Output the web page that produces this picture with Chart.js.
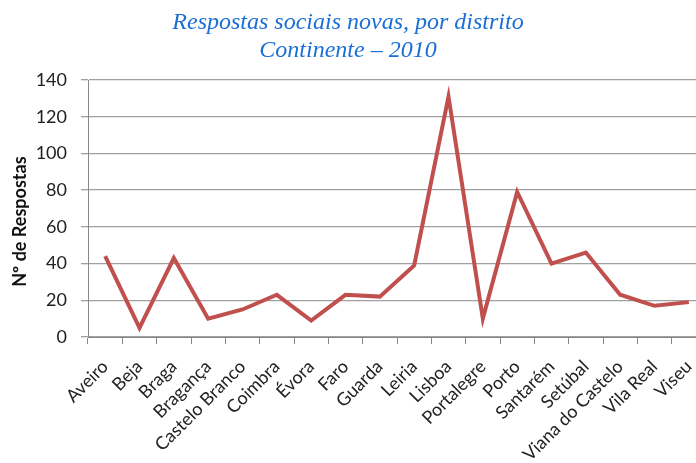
<!DOCTYPE html>
<html>
<head>
<meta charset="utf-8">
<script src="https://cdn.jsdelivr.net/npm/chart.js@4/dist/chart.umd.min.js"></script>
<style>
html,body{margin:0;padding:0;background:#fff;}
#wrap{width:696px;height:463px;position:relative;overflow:hidden;}
#c{position:absolute;left:-10px;top:0;}
</style>
</head>
<body>
<div id="wrap"><canvas id="c" width="716" height="463"></canvas></div>
<script>
const categories = ["Aveiro","Beja","Braga","Bragança","Castelo Branco","Coimbra","Évora","Faro","Guarda","Leiria","Lisboa","Portalegre","Porto","Santarém","Setúbal","Viana do Castelo","Vila Real","Viseu"];
const respostas = [44,5,43,10,15,23,9,23,22,39,131,10,79,40,46,23,17,19];
const titleLines = ["Respostas sociais novas, por distrito","Continente – 2010"];
const yTitle = "Nº de Respostas";

new Chart(document.getElementById('c'), {
  type: 'line',
  data: {
    labels: categories,
    datasets: [{
      data: respostas,
      borderColor: '#c0504d',
      borderWidth: 4,
      pointRadius: 0,
      tension: 0,
      fill: false
    }]
  },
  options: {
    responsive: false,
    animation: false,
    layout: { padding: { left: 0, right: 0, top: 0, bottom: 0 } },
    plugins: {
      legend: { display: false },
      tooltip: { enabled: false },
      title: {
        display: true,
        text: titleLines,
        color: '#1a6fd4',
        font: { family: 'Liberation Serif', style: 'italic', weight: 'normal', size: 24, lineHeight: '28px' },
        padding: { top: 9, bottom: 15 }
      }
    },
    scales: {
      x: {
        offset: true,
        grid: { offset: true, drawOnChartArea: false, color: '#888', tickLength: 7 },
        border: { color: '#888' },
        afterFit: (s) => { s.height = 126; s.paddingLeft = 0; s.paddingRight = 0; },
        ticks: {
          color: '#222',
          maxRotation: 45, minRotation: 45,
          autoSkip: false,
          font: { family: 'Lato', size: 18 },
          padding: 12
        }
      },
      y: {
        min: 0, max: 140,
        afterFit: (s) => { s.width = 98; },
        ticks: { stepSize: 20, color: '#222', font: { family: 'Lato', size: 18 }, padding: 14 },
        grid: { color: '#a0a0a0', tickLength: 7, lineWidth: 1.3 },
        border: { color: '#888' },
        title: {
          display: true,
          text: yTitle + "\u00a0\u00a0\u00a0\u00a0\u00a0\u00a0",
          color: '#111',
          font: { family: 'Lato', size: 18, weight: 'bold' },
          padding: { top: 19, bottom: 0 }
        }
      }
    }
  }
});
</script>
</body>
</html>
